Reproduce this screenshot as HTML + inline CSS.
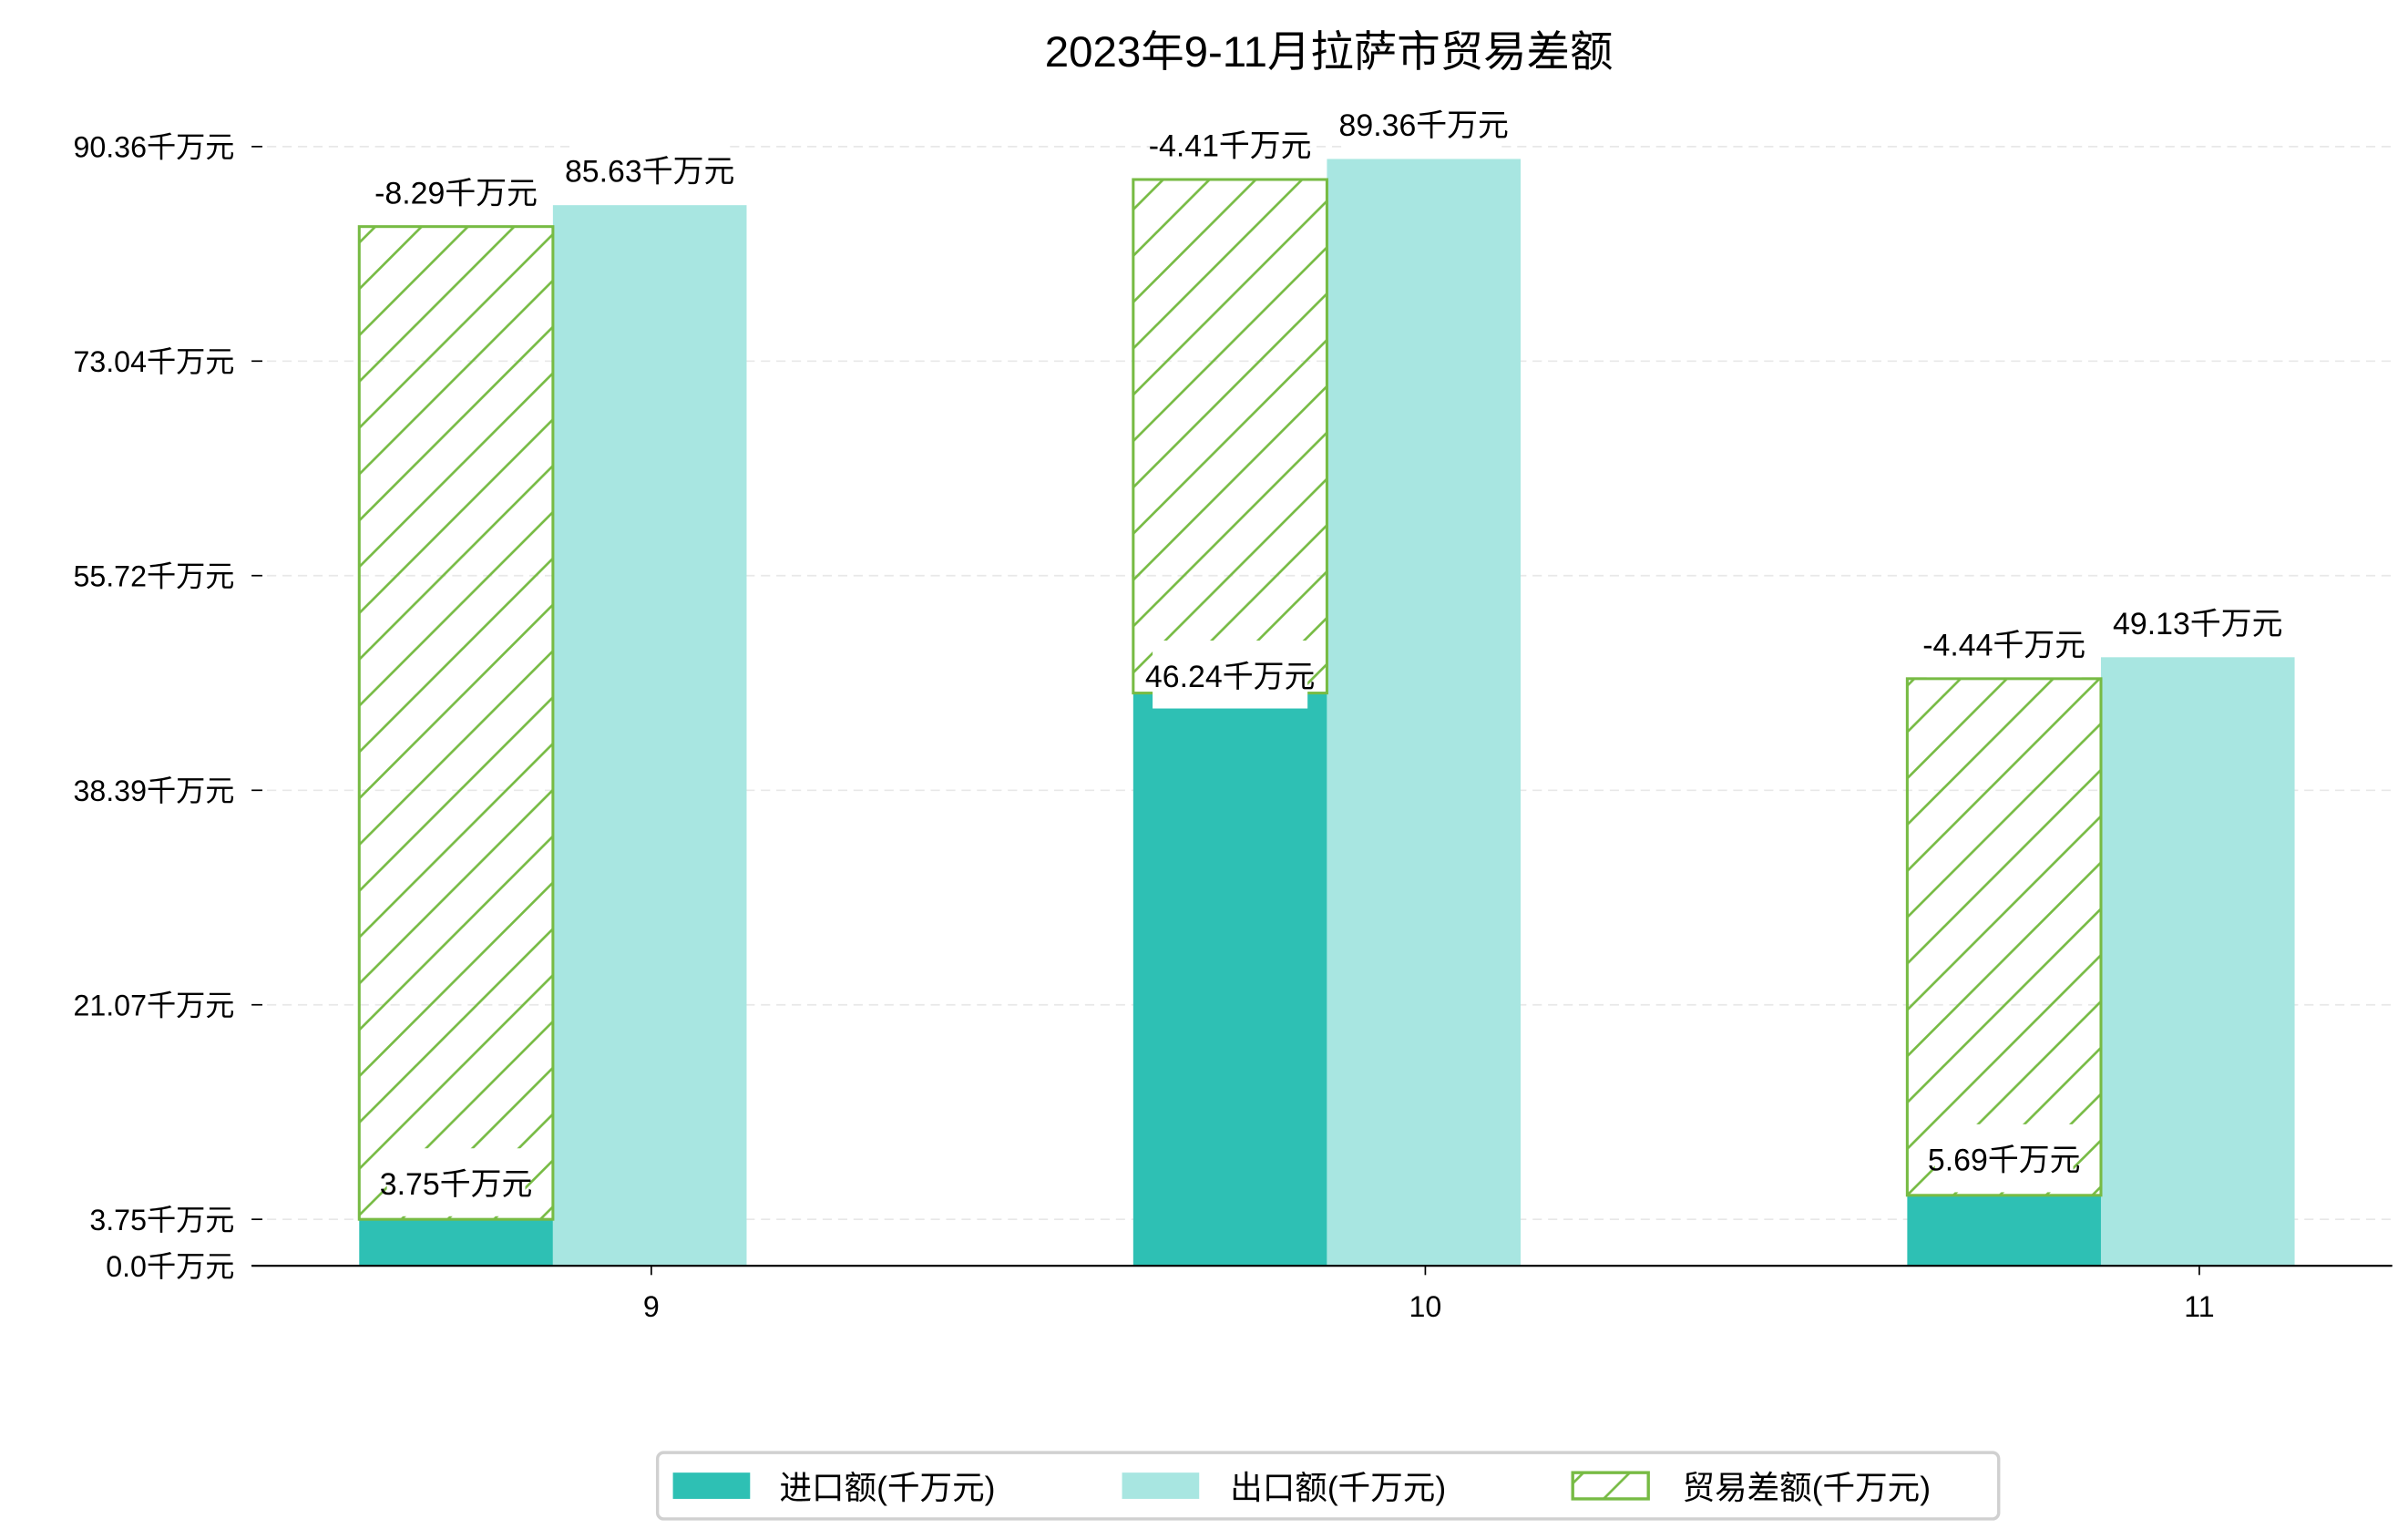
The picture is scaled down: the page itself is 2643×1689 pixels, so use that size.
<!DOCTYPE html>
<html><head><meta charset="utf-8">
<style>
html,body{margin:0;padding:0;background:#fff;}
svg{display:block;}
text{font-family:"Liberation Sans","Noto Sans CJK SC","WenQuanYi Zen Hei",sans-serif;}
</style></head>
<body>
<svg id="chart" xmlns="http://www.w3.org/2000/svg" width="2643" height="1689" viewBox="0 0 1560.2 997" preserveAspectRatio="none">
<defs>
<pattern id="hatch" patternUnits="userSpaceOnUse" width="30" height="30">
<line x1="-3" y1="33" x2="33" y2="-3" stroke="#77bb44" stroke-width="1.6"/>
<line x1="-33" y1="33" x2="3" y2="-3" stroke="#77bb44" stroke-width="1.6"/>
<line x1="27" y1="33" x2="63" y2="-3" stroke="#77bb44" stroke-width="1.6"/>
</pattern>
</defs>
<text x="861" y="43" font-size="28" text-anchor="middle" fill="#000">2023年9-11月拉萨市贸易差额</text>
<g id="grid"></g>
<g id="bars"></g>
<g id="labels"></g>
<g id="axes"></g>
<g>
<rect x="426" y="941" width="869" height="43" rx="4" fill="#fff" stroke="#d0d0d0" stroke-width="2"/>
<rect x="436" y="954" width="50" height="17" fill="#2ec0b4"/>
<text x="505" y="971" font-size="21">进口额(千万元)</text>
<rect x="727" y="954" width="50" height="17" fill="#a8e6e1"/>
<text x="797" y="971" font-size="21">出口额(千万元)</text>
<rect x="1019" y="954" width="49" height="17" fill="url(#hatch)" stroke="#77bb44" stroke-width="2"/>
<text x="1090" y="971" font-size="21">贸易差额(千万元)</text>
</g>
</svg>
<script>
const categories = ["9", "10", "11"];
const importValues = [3.75, 46.24, 5.69];
const exportValues = [85.63, 89.36, 49.13];
const balanceValues = [-8.29, -4.41, -4.44];
const balanceTops = [83.9, 87.7, 47.4];
const tickValues = [0.0, 3.75, 21.07, 38.39, 55.72, 73.04, 90.36];

const NS = "http://www.w3.org/2000/svg";
const x0 = 163, x1 = 1550, yBase = 820, pxPerUnit = 8.024;
const catX0 = 421, catStep = 501.5, barW = 125.5;
function yS(v){ return yBase - v * pxPerUnit; }
function xS(i){ return catX0 + i * catStep; }
function mk(tag, attrs, parent){
  const e = document.createElementNS(NS, tag);
  for (const k in attrs) e.setAttribute(k, attrs[k]);
  parent.appendChild(e); return e;
}
const grid = document.getElementById('grid');
const bars = document.getElementById('bars');
const labels = document.getElementById('labels');
const axes = document.getElementById('axes');

tickValues.forEach((t) => {
  const y = yS(t);
  if (t > 0) {
    const g = mk('line', {x1: x0, x2: x1, y1: y, y2: y, stroke: '#e8e8e8', 'stroke-width': 1, 'stroke-dasharray': '6,4'}, grid);
    
    
  }
  const tk = mk('line', {x1: x0, x2: x0 + 7, y1: y, y2: y, stroke: '#000', 'stroke-width': 1}, axes);
  
  
  const tl = mk('text', {x: 152, y: y + 7, 'font-size': 19, 'text-anchor': 'end'}, axes);
  tl.textContent = t.toFixed(t === 0 ? 1 : 2) + '千万元';
  
  
});
const ax = mk('line', {x1: x0, x2: x1, y1: yBase, y2: yBase, stroke: '#000', 'stroke-width': 1.3}, axes);



function label(cx, yTop, txt, name){
  const w = txt.length * 10.8 + 14;
  const r = mk('rect', {x: cx - w/2, y: yTop - 45, width: w, height: 44, fill: '#fff'}, labels);
  
  
  const t = mk('text', {x: cx, y: yTop - 15, 'font-size': 20, 'text-anchor': 'middle'}, labels);
  t.textContent = txt;
  
  
}

categories.forEach((c, i) => {
  const cx = xS(i);
  const ix = cx - 1.5 * barW, ex = cx - 0.5 * barW;
  const ib = mk('rect', {x: ix, y: yS(importValues[i]), width: barW, height: yBase - yS(importValues[i]), fill: '#2ec0b4'}, bars);
  
  
  const eb = mk('rect', {x: ex, y: yS(exportValues[i]), width: barW, height: yBase - yS(exportValues[i]), fill: '#a8e6e1'}, bars);
  
  
  const hb = mk('rect', {x: ix, y: yS(balanceTops[i]), width: barW, height: yS(importValues[i]) - yS(balanceTops[i]), fill: 'url(#hatch)', stroke: '#77bb44', 'stroke-width': 1.8}, bars);
  
  
  const tk = mk('line', {x1: cx + 1, x2: cx + 1, y1: yBase, y2: yBase + 6, stroke: '#000', 'stroke-width': 1}, axes);
  
  
  const xl = mk('text', {x: cx + 1, y: 853, 'font-size': 19, 'text-anchor': 'middle'}, axes);
  xl.textContent = c;
  
  
});
categories.forEach((c, i) => {
  const cx = xS(i);
  label(cx, yS(exportValues[i]), exportValues[i].toFixed(2) + '千万元', 'export-value-label');
});
categories.forEach((c, i) => {
  const cx = xS(i);
  const ic = cx - barW;
  label(ic, yS(importValues[i]) + (i === 1 ? 11 : (i === 0 ? -1 : -1)) - 0, importValues[i].toFixed(2) + '千万元', 'import-value-label');
  label(ic, yS(balanceTops[i]), balanceValues[i].toFixed(2) + '千万元', 'balance-value-label');
});
</script>
</body></html>
